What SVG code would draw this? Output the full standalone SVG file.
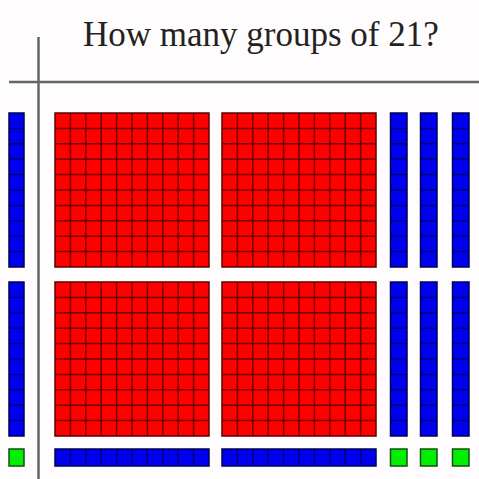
<svg xmlns="http://www.w3.org/2000/svg" width="479" height="479" viewBox="0 0 479 479">
  <style>
    .axis { stroke: #666; stroke-width: 2.5; fill: none; }
    .title { font-family: "Liberation Serif", "Times New Roman", serif; font-size: 35px; fill: #222; }
    .red { fill: #ff0000; stroke: #5a0000; stroke-width: 1.5; }
    .redLines { stroke: #700000; stroke-width: 1.5; fill: none; }
    .blue { fill: #0000f0; stroke: #000050; stroke-width: 1.5; }
    .blueLines { stroke: #000070; stroke-width: 1.5; fill: none; }
    .green { fill: #00f000; stroke: #1a4a1a; stroke-width: 1.5; }
  </style>
  <defs>
    <path id="redGridLines" class="redLines" d="M15.4 0V154M30.8 0V154M46.2 0V154M61.6 0V154M77 0V154M92.4 0V154M107.8 0V154M123.2 0V154M138.6 0V154M0 15.4H154M0 30.8H154M0 46.2H154M0 61.6H154M0 77H154M0 92.4H154M0 107.8H154M0 123.2H154M0 138.6H154"/>
    <path id="vTenLines" class="blueLines" d="M0 15.4H16.5M0 30.8H16.5M0 46.2H16.5M0 61.6H16.5M0 77H16.5M0 92.4H16.5M0 107.8H16.5M0 123.2H16.5M0 138.6H16.5"/>
    <path id="vTenLinesL" class="blueLines" d="M0 15.4H15M0 30.8H15M0 46.2H15M0 61.6H15M0 77H15M0 92.4H15M0 107.8H15M0 123.2H15M0 138.6H15"/>
    <path id="hTenLines" class="blueLines" d="M15.4 0V17M30.8 0V17M46.2 0V17M61.6 0V17M77 0V17M92.4 0V17M107.8 0V17M123.2 0V17M138.6 0V17"/>
  </defs>

  <rect x="0" y="0" width="479" height="479" fill="#fefcfc"/>

  <g id="title">
    <text class="title" x="83" y="46">How many groups of 21?</text>
  </g>

  <g id="axes">
    <line class="axis" x1="9" y1="82" x2="479" y2="82"/>
    <line class="axis" x1="38.5" y1="37" x2="38.5" y2="479"/>
  </g>

  <!-- red hundreds -->
  <g id="hundred-1" transform="translate(55,113)"><rect class="red" width="154" height="154"/><use href="#redGridLines"/></g>
  <g id="hundred-2" transform="translate(222,113)"><rect class="red" width="154" height="154"/><use href="#redGridLines"/></g>
  <g id="hundred-3" transform="translate(55,282)"><rect class="red" width="154" height="154"/><use href="#redGridLines"/></g>
  <g id="hundred-4" transform="translate(222,282)"><rect class="red" width="154" height="154"/><use href="#redGridLines"/></g>

  <!-- vertical blue tens -->
  <g id="ten-left-1" transform="translate(9,113)"><rect class="blue" width="15" height="154"/><use href="#vTenLinesL"/></g>
  <g id="ten-left-2" transform="translate(9,282)"><rect class="blue" width="15" height="154"/><use href="#vTenLinesL"/></g>
  <g id="ten-r1-top" transform="translate(390.5,113)"><rect class="blue" width="16.5" height="154"/><use href="#vTenLines"/></g>
  <g id="ten-r2-top" transform="translate(420.5,113)"><rect class="blue" width="16.5" height="154"/><use href="#vTenLines"/></g>
  <g id="ten-r3-top" transform="translate(452.5,113)"><rect class="blue" width="16.5" height="154"/><use href="#vTenLines"/></g>
  <g id="ten-r1-bot" transform="translate(390.5,282)"><rect class="blue" width="16.5" height="154"/><use href="#vTenLines"/></g>
  <g id="ten-r2-bot" transform="translate(420.5,282)"><rect class="blue" width="16.5" height="154"/><use href="#vTenLines"/></g>
  <g id="ten-r3-bot" transform="translate(452.5,282)"><rect class="blue" width="16.5" height="154"/><use href="#vTenLines"/></g>

  <!-- horizontal blue tens -->
  <g id="ten-h1" transform="translate(55,449)"><rect class="blue" width="154" height="17"/><use href="#hTenLines"/></g>
  <g id="ten-h2" transform="translate(222,449)"><rect class="blue" width="154" height="17"/><use href="#hTenLines"/></g>

  <!-- green ones -->
  <g id="one-1"><rect class="green" x="9" y="449" width="15" height="17"/></g>
  <g id="one-2"><rect class="green" x="390.5" y="449" width="16.5" height="17"/></g>
  <g id="one-3"><rect class="green" x="420.5" y="449" width="16.5" height="17"/></g>
  <g id="one-4"><rect class="green" x="452.5" y="449" width="16.5" height="17"/></g>
</svg>
